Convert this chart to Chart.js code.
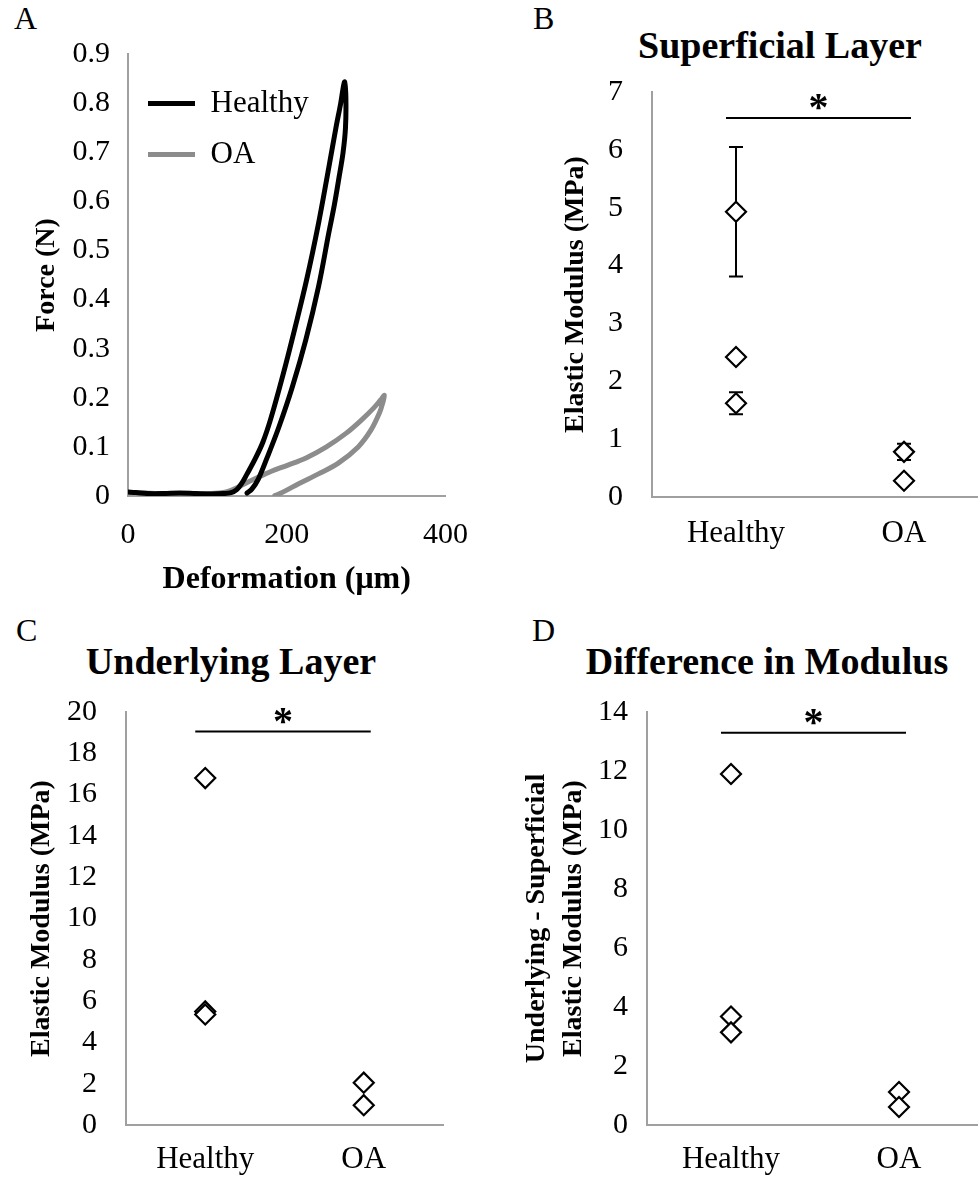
<!DOCTYPE html>
<html lang="en">
<head>
<meta charset="utf-8">
<script src="https://cdn.jsdelivr.net/npm/chart.js@4.4.1/dist/chart.umd.min.js"></script>
<style>
  body { margin: 0; background: #fff; }
  #page { position: relative; width: 978px; height: 1179px; overflow: hidden;
          font-family: 'Liberation Serif', 'Times New Roman', serif; color: #000; }
  canvas { position: absolute; }
  .letter { position: absolute; font-size: 32px; line-height: 1; }
  .title { position: absolute; font-size: 38px; font-weight: bold; line-height: 1;
           white-space: nowrap; transform: translateX(-50%); }
</style>
</head>
<body>
<div id="page">
  <div class="letter" style="left:14px; top:2px;">A</div>
  <div class="letter" style="left:533px; top:2px;">B</div>
  <div class="letter" style="left:16px; top:614px;">C</div>
  <div class="letter" style="left:532px; top:614px;">D</div>

  <div class="title" style="left:780px; top:26px;">Superficial Layer</div>
  <div class="title" style="left:231px; top:642px;">Underlying Layer</div>
  <div class="title" style="left:767px; top:642px;">Difference in Modulus</div>

  <canvas id="chartA" width="489" height="600" style="left:0; top:0;"></canvas>
  <canvas id="chartB" width="520" height="600" style="left:489px; top:0;"></canvas>
  <canvas id="chartC" width="489" height="579" style="left:0; top:600px;"></canvas>
  <canvas id="chartD" width="520" height="579" style="left:489px; top:600px;"></canvas>
</div>

<script>
// ---- data ----
const groups = ['Healthy', 'OA'];

// A: force vs deformation, baseline -> loading -> unloading
const healthyDef = [0, 10, 25, 45, 65, 85, 105, 120, 130,
  137, 143, 150, 160, 170, 180, 195, 210, 225, 240, 252, 262, 268, 271.5, 273,
  274.5, 274, 271, 266, 260, 253, 240, 224, 207, 190, 175, 164, 156, 150];
const healthyForce = [0.008, 0.007, 0.005, 0.005, 0.006, 0.005, 0.004, 0.005, 0.007,
  0.013, 0.025, 0.045, 0.075, 0.11, 0.158, 0.245, 0.34, 0.44, 0.555, 0.66, 0.75, 0.80, 0.835, 0.843,
  0.81, 0.75, 0.70, 0.65, 0.593, 0.536, 0.426, 0.318, 0.222, 0.14, 0.077, 0.034, 0.014, 0.006];
const oaDef = [0, 20, 40, 60, 80, 100, 115,
  125, 135, 147, 160, 180, 200, 225, 250, 275, 295, 310, 318, 323,
  321, 317, 306, 290, 265, 240, 215, 200, 190, 185];
const oaForce = [0.007, 0.006, 0.005, 0.005, 0.004, 0.005, 0.006,
  0.009, 0.015, 0.025, 0.035, 0.05, 0.062, 0.078, 0.10, 0.128, 0.156, 0.18, 0.195, 0.205,
  0.19, 0.17, 0.134, 0.10, 0.067, 0.045, 0.025, 0.012, 0.004, 0.001];
const defTicks = [0, 200, 400];
const forceTicks = [0, 0.1, 0.2, 0.3, 0.4, 0.5, 0.6, 0.7, 0.8, 0.9];

// B: superficial layer modulus (MPa), with error bars
const supHealthy = [4.93, 2.42, 1.62];
const supHealthyErr = [1.12, 0, 0.19];
const supOA = [0.78, 0.28];
const supOAErr = [0.14, 0];
const supTicks = [0, 1, 2, 3, 4, 5, 6, 7];
const supSig = 6.55;

// C: underlying layer modulus (MPa)
const undHealthy = [16.8, 5.5, 5.35];
const undOA = [2.05, 0.96];
const undTicks = [0, 2, 4, 6, 8, 10, 12, 14, 16, 18, 20];
const undSig = 19.05;

// D: underlying - superficial (MPa)
const diffHealthy = [11.9, 3.68, 3.14];
const diffOA = [1.12, 0.61];
const diffTicks = [0, 2, 4, 6, 8, 10, 12, 14];
const diffSig = 13.3;

// ---- helpers ----
const serif = "'Liberation Serif', 'Times New Roman', serif";
const axisGrey = '#a0a0a0';

function pairs(xs, ys) { return xs.map((x, i) => ({ x: x, y: ys[i] })); }
function groupPoints(h, o) {
  return h.map(v => ({ x: groups[0], y: v })).concat(o.map(v => ({ x: groups[1], y: v })));
}
// pin the axis boxes so the plot area sits where the figure has it
function fixWidth(w) { return s => { s.width = w; }; }
function fixHeight(h) { return s => { s.height = h; }; }
function useTicks(list) { return s => { s.ticks = list.map(v => ({ value: v })); }; }

// vertical error bars, drawn under the markers
const errorBars = {
  id: 'errorBars',
  beforeDatasetsDraw(chart) {
    const ctx = chart.ctx, y = chart.scales.y;
    chart.data.datasets.forEach((ds, i) => {
      if (!ds.errors) return;
      chart.getDatasetMeta(i).data.forEach((pt, j) => {
        const e = ds.errors[j];
        if (!e) return;
        const v = ds.data[j].y;
        const top = y.getPixelForValue(v + e), bot = y.getPixelForValue(v - e);
        ctx.save();
        ctx.strokeStyle = '#000';
        ctx.lineWidth = 2;
        ctx.beginPath();
        ctx.moveTo(pt.x, top); ctx.lineTo(pt.x, bot);
        ctx.moveTo(pt.x - 7, top); ctx.lineTo(pt.x + 7, top);
        ctx.moveTo(pt.x - 7, bot); ctx.lineTo(pt.x + 7, bot);
        ctx.stroke();
        ctx.restore();
      });
    });
  }
};

// significance bar with the star above it
const sigBar = {
  id: 'sigBar',
  afterDatasetsDraw(chart, args, opts) {
    if (opts.level == null) return;
    const ctx = chart.ctx, x = chart.scales.x, y = chart.scales.y;
    const x0 = x.getPixelForValue(0) - 10, x1 = x.getPixelForValue(1) + 7;
    const yy = y.getPixelForValue(opts.level);
    ctx.save();
    ctx.strokeStyle = '#000';
    ctx.lineWidth = 2;
    ctx.beginPath(); ctx.moveTo(x0, yy); ctx.lineTo(x1, yy); ctx.stroke();
    ctx.fillStyle = '#000';
    ctx.font = 'bold 40px ' + serif;
    ctx.textAlign = 'center';
    ctx.textBaseline = 'alphabetic';
    ctx.fillText(opts.mark, (x0 + x1) / 2, yy + 2);
    ctx.restore();
  }
};

// a legend placed in the chart area starts at the canvas top, move it down
const legendNudge = {
  id: 'legendNudge',
  afterLayout(chart, args, opts) {
    if (!opts.dy || !chart.legend) return;
    chart.legend.top += opts.dy;
    chart.legend.bottom += opts.dy;
  }
};

Chart.register(errorBars, sigBar, legendNudge);

// ---- A ----
new Chart(document.getElementById('chartA'), {
  type: 'scatter',
  data: {
    datasets: [
      { label: 'Healthy', data: pairs(healthyDef, healthyForce), showLine: true, borderColor: '#000',
        borderWidth: 5, pointRadius: 0, tension: 0.35, borderCapStyle: 'round', borderJoinStyle: 'round' },
      { label: 'OA', data: pairs(oaDef, oaForce), showLine: true, borderColor: '#8c8c8c',
        borderWidth: 5, pointRadius: 0, tension: 0.35, borderCapStyle: 'round', borderJoinStyle: 'round' }
    ]
  },
  options: {
    responsive: false, animation: false, events: [],
    layout: { padding: { top: 54, right: 41, left: 0, bottom: 0 } },
    plugins: {
      tooltip: { enabled: false },
      legendNudge: { dy: 68 },
      legend: {
        position: 'chartArea', align: 'start',
        labels: { usePointStyle: true, pointStyle: 'line', pointStyleWidth: 47, color: '#000',
                  font: { family: serif, size: 31 }, padding: 20 }
      }
    },
    scales: {
      x: {
        type: 'linear', min: 0, max: 400,
        grid: { display: false, drawTicks: false },
        border: { color: axisGrey, width: 2 },
        ticks: { color: '#000', font: { family: serif, size: 30 }, padding: 21, maxRotation: 0 },
        afterBuildTicks: useTicks(defTicks),
        afterFit: fixHeight(104),
        title: { display: true, text: 'Deformation (μm)', color: '#000',
                 font: { family: serif, size: 32, weight: 'bold', lineHeight: 1.2 }, padding: { top: 0, bottom: 1 } }
      },
      y: {
        min: 0, max: 0.9,
        grid: { display: false, drawTicks: false },
        border: { color: axisGrey, width: 2 },
        ticks: { color: '#000', font: { family: serif, size: 30 }, padding: 18 },
        afterBuildTicks: useTicks(forceTicks),
        afterFit: fixWidth(128),
        title: { display: true, text: 'Force (N)', color: '#000',
                 font: { family: serif, size: 28, weight: 'bold', lineHeight: 1.2 }, padding: { top: 30, bottom: 0 } }
      }
    }
  }
});

// ---- B, C, D: modulus scatter by group ----
function modulusChart(id, cfg) {
  return new Chart(document.getElementById(id), {
    type: 'scatter',
    data: {
      labels: groups,
      datasets: [{
        data: cfg.points, errors: cfg.errors,
        pointStyle: 'rectRot', pointRadius: 10, pointBorderWidth: 2.2,
        pointBorderColor: '#000', pointBackgroundColor: '#fff'
      }]
    },
    options: {
      responsive: false, animation: false, events: [],
      layout: { padding: { top: cfg.top, right: cfg.right, left: 0, bottom: 0 } },
      plugins: {
        legend: { display: false },
        tooltip: { enabled: false },
        sigBar: { level: cfg.sig, mark: '*' }
      },
      scales: {
        x: {
          type: 'category', offset: true,
          grid: { display: false, drawTicks: false },
          border: { color: axisGrey, width: 2 },
          ticks: { color: '#000', font: { family: serif, size: 31 }, padding: cfg.xPad, maxRotation: 0 },
          afterFit: fixHeight(cfg.xH)
        },
        y: {
          min: 0, max: cfg.max,
          grid: { display: false, drawTicks: false },
          border: { color: axisGrey, width: 2 },
          ticks: { color: '#000', font: { family: serif, size: 30 }, padding: cfg.yPad },
          afterBuildTicks: useTicks(cfg.ticks),
          afterFit: fixWidth(cfg.yW),
          title: { display: true, text: cfg.yTitle, color: '#000',
                   font: { family: serif, size: 28, weight: 'bold', lineHeight: cfg.lh || 1.2 },
                   padding: { top: cfg.tPad, bottom: 0 } }
        }
      }
    }
  });
}

modulusChart('chartB', {
  points: groupPoints(supHealthy, supOA), errors: supHealthyErr.concat(supOAErr),
  sig: supSig, max: 7, ticks: supTicks, top: 92, right: 21, yW: 163, xH: 103,
  xPad: 18, yPad: 29, tPad: 70, yTitle: 'Elastic Modulus (MPa)'
});

modulusChart('chartC', {
  points: groupPoints(undHealthy, undOA),
  sig: undSig, max: 20, ticks: undTicks, top: 112, right: 46, yW: 126, xH: 54,
  xPad: 16, yPad: 29, tPad: 25, yTitle: 'Elastic Modulus (MPa)'
});

modulusChart('chartD', {
  points: groupPoints(diffHealthy, diffOA),
  sig: diffSig, max: 14, ticks: diffTicks, top: 112, right: 26, yW: 158, xH: 54,
  xPad: 16, yPad: 19, tPad: 29.5, lh: 1.32,
  yTitle: ['Underlying - Superficial', 'Elastic Modulus (MPa)']
});
</script>
</body>
</html>
